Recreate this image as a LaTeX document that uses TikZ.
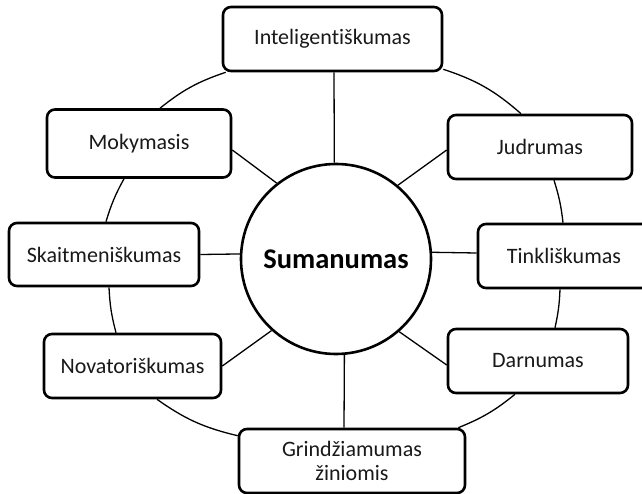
\documentclass[tikz,border=0pt]{standalone}
\usepackage{fontspec}
\setmainfont{Carlito}[Ligatures={NoCommon}, RawFeature={-clig}]
\usetikzlibrary{calc,backgrounds}
\tikzset{
  box/.style={draw, rectangle, rounded corners=8pt, line width=2.6pt, fill=white,
    inner sep=0pt, align=center, font=\fontsize{22}{24}\selectfont, text=black!90},
  hub/.style={draw, circle, line width=2.6pt, fill=white, inner sep=0pt,
    minimum size=190pt, font=\fontsize{28.5}{30}\selectfont\bfseries},
  spoke/.style={line width=1.3pt},
  ring/.style={line width=1.3pt}
}
\begin{document}
\begin{tikzpicture}[x=1pt,y=-1pt]
\useasboundingbox (0,0) rectangle (642,494);
\node[hub] (sum) at (336,259) {Sumanumas};
\node[box, minimum width=219pt, minimum height=64pt] (intel) at (332.5,39) {Inteligentiškumas};
\node[box, minimum width=184pt, minimum height=68pt] (mok) at (139,143.5) {Mokymasis};
\node[box, minimum width=184pt, minimum height=64pt] (jud) at (540,147) {Judrumas};
\node[box, minimum width=190pt, minimum height=63pt] (skait) at (104,254.5) {Skaitmeniškumas};
\node[box, minimum width=172pt, minimum height=64pt] (tink) at (564,256) {Tinkliškumas};
\node[box, minimum width=177pt, minimum height=64pt] (novat) at (132.5,366) {Novatoriškumas};
\node[box, minimum width=180pt, minimum height=64pt] (darn) at (538,361) {Darnumas};
\node[box, minimum width=226pt, minimum height=64pt] (grind) at (352,461) {Grindžiamumas\\žiniomis};
\begin{scope}[on background layer]
  % spokes
  \draw[spoke] ($(intel.south)+(1.5,0)$) -- (sum.91);
  \draw[spoke] ($(mok.east)+(0,6.5)$) -- (sum.128);
  \draw[spoke] ($(jud.west)+(0,3)$) -- (sum.50);
  \draw[spoke] (skait.east) -- (sum.177);
  \draw[spoke] ($(tink.west)+(0,-3)$) -- (sum.4);
  \draw[spoke] (novat.east) -- (sum.228);
  \draw[spoke] ($(darn.west)+(0,4)$) -- (sum.-49);
  \draw[spoke] ($(grind.north)+(-8,0)$) -- (sum.-85);
  % ring arcs
  \draw[ring] ($(intel.south west)+(4,0)$) to[bend right=10] ($(mok.north)+(21,0)$);
  \draw[ring] ($(mok.south)+(-15,0)$) to[bend right=6] ($(skait.north)+(2,0)$);
  \draw[ring] ($(skait.south)+(5,0)$) to[bend right=6] ($(novat.north)+(-16.5,0)$);
  \draw[ring] ($(novat.south)+(24.5,0)$) to[bend right=11] ($(grind.north west)+(0,8)$);
  \draw[ring] ($(grind.north east)+(-8,0)$) to[bend right=8.5] ($(darn.south)+(-23,0)$);
  \draw[ring] ($(darn.north)+(17,0)$) to[bend right=5] ($(tink.south)+(-4,0)$);
  \draw[ring] ($(tink.north)+(-1,0)$) to[bend right=5.5] ($(jud.south)+(14,0)$);
  \draw[ring] ($(jud.north)+(-19,0)$) to[bend right=11.5] ($(intel.south east)+(0,-3)$);
\end{scope}
\end{tikzpicture}
\end{document}
